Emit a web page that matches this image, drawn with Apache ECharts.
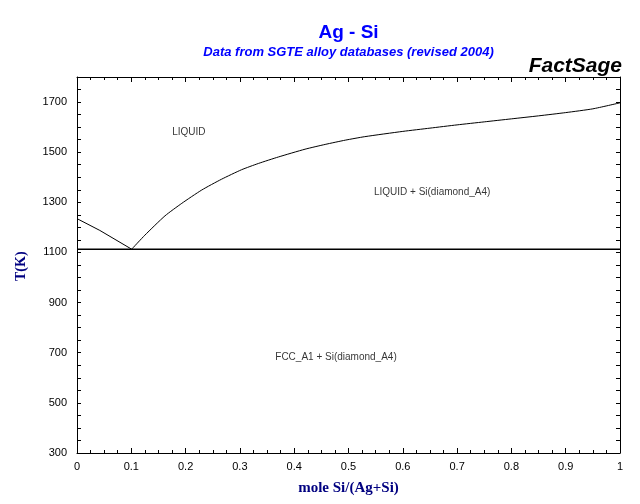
<!DOCTYPE html>
<html>
<head>
<meta charset="utf-8">
<script src="https://cdn.jsdelivr.net/npm/echarts@6/dist/echarts.min.js"></script>
<style>html,body{margin:0;padding:0;background:#fff;}#c{width:640px;height:504px;}</style>
</head>
<body>
<div id="c"></div>
<script>
// Liquidus, Ag-rich side (x = mole Si/(Ag+Si), T in K)
const leftLiqX = [0, 0.042, 0.1007];
const leftLiqT = [1235, 1188, 1113];
// Liquidus, Si-rich side
const rightLiqX = [0.1007, 0.125, 0.162, 0.193, 0.2296, 0.266, 0.303, 0.334, 0.371, 0.42, 0.457, 0.494, 0.53, 0.6, 0.65, 0.7, 0.75, 0.8, 0.85, 0.9, 0.95, 1.0];
const rightLiqT = [1113, 1169, 1246, 1296, 1349, 1392, 1430, 1455, 1481, 1512, 1531, 1548, 1562, 1583, 1596, 1609, 1621, 1633, 1645, 1658, 1673, 1697];
// Eutectic isotherm
const eutecticX = [0, 1];
const eutecticT = [1113, 1113];
// Phase field labels
const phaseNames = ['LIQUID', 'LIQUID + Si(diamond_A4)', 'FCC_A1 + Si(diamond_A4)'];
const phaseX = [0.206, 0.654, 0.477];
const phaseT = [1578, 1342, 682];
// Axis tick labels
const yTickLabels = [300, 500, 700, 900, 1100, 1300, 1500, 1700];
const xTickLabels = ['0', '0.1', '0.2', '0.3', '0.4', '0.5', '0.6', '0.7', '0.8', '0.9', '1'];

const zip = (xs, ys) => xs.map((x, i) => [x, ys[i]]);

const chart = echarts.init(document.getElementById('c'), null, {renderer: 'canvas'});
const tickFont = {fontFamily: 'Liberation Sans, Arial, sans-serif', fontSize: 11, color: '#000'};
const sans = 'Liberation Sans, Arial, sans-serif';
const serif = 'Liberation Serif, Times New Roman, serif';

const option = {
  backgroundColor: '#ffffff',
  animation: false,
  grid: {left: 77, right: 20, top: 77, bottom: 51, containLabel: false},
  xAxis: [{
    type: 'value', min: 0, max: 1, interval: 0.1, position: 'bottom',
    axisLine: {show: true, onZero: false, lineStyle: {color: '#000', width: 1}},
    axisTick: {show: true, inside: true, length: 5, lineStyle: {color: '#000'}},
    minorTick: {show: true, splitNumber: 4, length: 3, lineStyle: {color: '#000'}},
    splitLine: {show: false},
    axisLabel: Object.assign({margin: 8, formatter: (v) => {
      const i = Math.round(v * 10);
      return Math.abs(v * 10 - i) < 1e-6 ? xTickLabels[i] : '';
    }}, tickFont)
  }, {
    type: 'value', min: 0, max: 1, interval: 0.1, position: 'top',
    axisLine: {show: true, onZero: false, lineStyle: {color: '#000', width: 1}},
    axisTick: {show: true, inside: true, length: 5, lineStyle: {color: '#000'}},
    minorTick: {show: true, splitNumber: 4, length: 3, lineStyle: {color: '#000'}},
    splitLine: {show: false},
    axisLabel: {show: false}
  }],
  yAxis: [{
    type: 'value', min: 300, max: 1800, interval: 50, position: 'left',
    axisLine: {show: true, onZero: false, lineStyle: {color: '#000', width: 1}},
    axisTick: {show: true, inside: true, length: 4, lineStyle: {color: '#000'}},
    splitLine: {show: false},
    axisLabel: Object.assign({margin: 10, formatter: (v) => yTickLabels.indexOf(Math.round(v)) >= 0 ? String(Math.round(v)) : ''}, tickFont)
  }, {
    type: 'value', min: 300, max: 1800, interval: 50, position: 'right',
    axisLine: {show: true, onZero: false, lineStyle: {color: '#000', width: 1}},
    axisTick: {show: true, inside: true, length: 4, lineStyle: {color: '#000'}},
    splitLine: {show: false},
    axisLabel: {show: false}
  }],
  graphic: [{
    type: 'text', x: 348.5, y: 23,
    style: {text: 'Ag - Si', textAlign: 'center', textVerticalAlign: 'top', font: 'bold 19px ' + sans, fill: '#0000ff'}
  }, {
    type: 'text', x: 348.5, y: 46,
    style: {text: 'Data from SGTE alloy databases (revised 2004)', textAlign: 'center', textVerticalAlign: 'top', font: 'italic bold 13px ' + sans, fill: '#0000ff'}
  }, {
    type: 'text', x: 622, y: 56,
    style: {text: 'FactSage', textAlign: 'right', textVerticalAlign: 'top', font: 'italic bold 21px ' + sans, fill: '#000'}
  }, {
    type: 'text', x: 348.5, y: 481,
    style: {text: 'mole Si/(Ag+Si)', textAlign: 'center', textVerticalAlign: 'top', font: 'bold 15px ' + serif, fill: '#000080'}
  }, {
    type: 'text', x: 14, y: 281, rotation: Math.PI / 2,
    style: {text: 'T(K)', font: 'bold 14px ' + serif, fill: '#000080'}
  }],
  series: [{
    type: 'line', data: zip(leftLiqX, leftLiqT), showSymbol: false, symbol: 'none',
    lineStyle: {color: '#000', width: 1}, silent: true
  }, {
    type: 'line', data: zip(rightLiqX, rightLiqT), showSymbol: false, symbol: 'none', smooth: 0.2,
    lineStyle: {color: '#000', width: 1}, silent: true
  }, {
    type: 'line', data: zip(eutecticX, eutecticT), showSymbol: false, symbol: 'none',
    lineStyle: {color: '#000', width: 1.5}, silent: true
  }, {
    type: 'scatter', symbolSize: 0, silent: true,
    data: phaseNames.map((n, i) => ({name: n, value: [phaseX[i], phaseT[i]]})),
    label: {show: true, position: 'inside', formatter: (p) => p.name, fontFamily: sans, fontSize: 10, color: '#000'}
  }]
};
chart.setOption(option);
</script>
</body>
</html>
